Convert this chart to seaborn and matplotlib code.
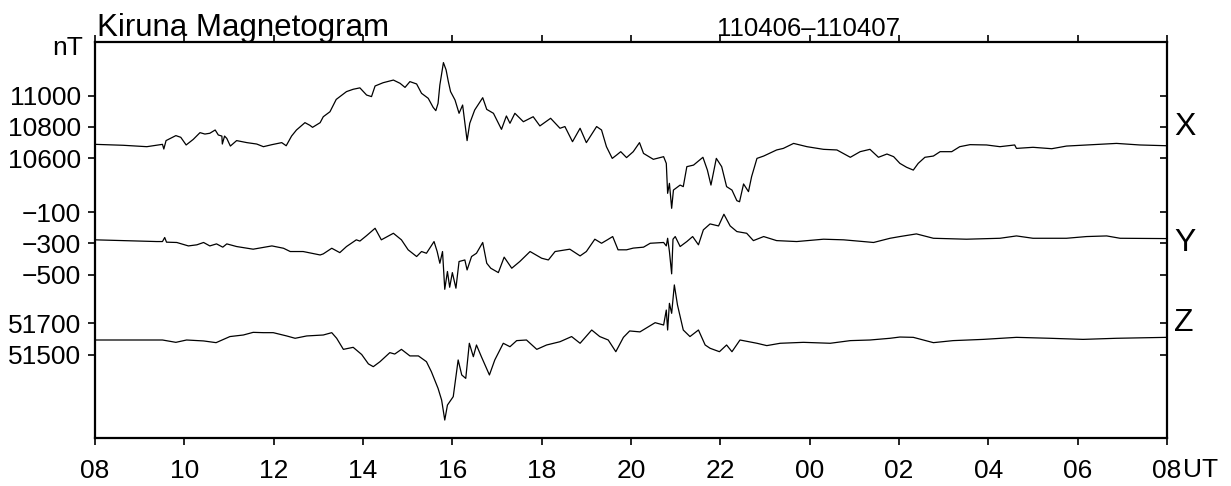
import seaborn as sns
import pandas as pd
import matplotlib.pyplot as plt

# Kiruna magnetogram 110406-110407, hours counted from 00 UT on 110406
x_hours = [8.0, 8.63, 9.16, 9.51, 9.54, 9.59, 9.81, 9.92, 10.04, 10.2, 10.35, 10.46, 10.57, 10.69,
           10.76, 10.84, 10.85, 10.9, 10.95, 11.03, 11.17, 11.4, 11.62, 11.77, 11.96, 12.18, 12.28,
           12.4, 12.51, 12.7, 12.81, 12.87, 13.04, 13.11, 13.26, 13.4, 13.63, 13.78, 13.93, 14.08,
           14.19, 14.27, 14.45, 14.68, 14.83, 14.94, 15.05, 15.2, 15.31, 15.46, 15.57, 15.63, 15.68,
           15.72, 15.8, 15.86, 15.91, 15.96, 16.06, 16.15, 16.23, 16.33, 16.39, 16.5, 16.68, 16.77,
           16.92, 17.1, 17.21, 17.29, 17.4, 17.59, 17.81, 17.96, 18.2, 18.41, 18.52, 18.69, 18.86,
           19.0, 19.23, 19.34, 19.45, 19.58, 19.68, 19.77, 19.9, 20.05, 20.19, 20.28, 20.5, 20.73,
           20.79, 20.82, 20.86, 20.91, 20.95, 21.1, 21.17, 21.25, 21.4, 21.61, 21.71, 21.79, 21.91,
           22.03, 22.14, 22.26, 22.37, 22.43, 22.52, 22.63, 22.7, 22.82, 22.97, 23.26, 23.41, 23.64,
           23.94, 24.31, 24.61, 24.91, 25.13, 25.35, 25.54, 25.73, 25.88, 26.02, 26.17, 26.32, 26.43,
           26.58, 26.77, 26.92, 27.18, 27.36, 27.59, 27.96, 28.26, 28.59, 28.63, 29.0, 29.42, 29.75,
           30.2, 30.87, 31.39, 32.0]
x_nT = [10688, 10682, 10673, 10688, 10658, 10712, 10744, 10733, 10684, 10720, 10763, 10754, 10759, 10780,
        10748, 10741, 10690, 10741, 10726, 10677, 10712, 10699, 10690, 10673, 10686, 10699, 10679,
        10741, 10780, 10827, 10810, 10797, 10827, 10865, 10897, 10976, 11026, 11041, 11050, 11004,
        10994, 11062, 11083, 11100, 11079, 11053, 11090, 11075, 11015, 10983, 10925, 10904, 10951,
        11068, 11212, 11165, 11090, 11026, 10972, 10887, 10940, 10712, 10823, 10908, 10987, 10912,
        10887, 10784, 10870, 10823, 10887, 10833, 10865, 10806, 10855, 10791, 10802, 10705, 10791,
        10699, 10802, 10780, 10673, 10598, 10620, 10641, 10603, 10641, 10699, 10630, 10592, 10609,
        10566, 10374, 10438, 10278, 10395, 10427, 10417, 10545, 10555, 10605, 10523, 10427, 10598,
        10545, 10417, 10395, 10327, 10320, 10434, 10385, 10481, 10598, 10613, 10652, 10662, 10694,
        10673, 10656, 10652, 10605, 10641, 10656, 10605, 10626, 10609, 10566, 10541, 10523, 10566,
        10605, 10613, 10641, 10641, 10673, 10686, 10684, 10673, 10684, 10662, 10669, 10660, 10677,
        10684, 10694, 10684, 10679]

y_hours = [8.0, 8.63, 9.38, 9.51, 9.56, 9.6, 9.83, 10.09, 10.28, 10.43, 10.57, 10.72, 10.86, 10.95,
           11.17, 11.54, 11.96, 12.22, 12.37, 12.66, 13.04, 13.11, 13.3, 13.48, 13.63, 13.85, 13.93,
           14.08, 14.27, 14.41, 14.68, 14.86, 15.01, 15.2, 15.31, 15.42, 15.59, 15.66, 15.72, 15.78,
           15.83, 15.89, 15.94, 16.0, 16.08, 16.15, 16.28, 16.33, 16.43, 16.54, 16.68, 16.77, 16.86,
           17.03, 17.16, 17.33, 17.51, 17.74, 18.0, 18.15, 18.3, 18.63, 18.86, 19.0, 19.19, 19.34,
           19.47, 19.59, 19.71, 19.9, 20.05, 20.28, 20.43, 20.73, 20.79, 20.82, 20.86, 20.91, 20.94,
           20.99, 21.1, 21.25, 21.38, 21.51, 21.62, 21.77, 21.96, 22.08, 22.22, 22.37, 22.59, 22.74,
           22.97, 23.26, 23.71, 24.31, 24.76, 25.2, 25.43, 25.8, 26.02, 26.39, 26.77, 27.51, 28.26,
           28.63, 29.0, 29.75, 30.2, 30.65, 30.95, 32.0]
y_nT = [-277, -282, -288, -288, -262, -292, -294, -316, -309, -294, -316, -303, -324, -303,
        -320, -337, -316, -331, -352, -352, -374, -367, -331, -359, -320, -277, -285,
        -250, -203, -277, -235, -277, -341, -384, -352, -363, -288, -352, -427, -352,
        -594, -480, -581, -487, -587, -416, -406, -470, -384, -363, -294, -427, -459,
        -487, -388, -459, -416, -352, -395, -406, -352, -337, -380, -352, -273, -299,
        -277, -256, -341, -341, -330, -324, -299, -294, -316, -267, -352, -495, -273,
        -256, -320, -288, -256, -309, -213, -175, -188, -113, -188, -224, -235, -282,
        -256, -282, -288, -273, -277, -288, -294, -267, -256, -239, -267, -273, -267,
        -252, -267, -267, -256, -252, -267, -269]

z_hours = [8.0, 8.63, 9.51, 9.81, 10.05, 10.43, 10.71, 11.02, 11.32, 11.54, 11.77, 11.99, 12.29,
           12.48, 12.74, 13.11, 13.3, 13.41, 13.56, 13.78, 13.97, 14.12, 14.23, 14.38, 14.6, 14.71,
           14.86, 15.05, 15.24, 15.42, 15.53, 15.68, 15.76, 15.83, 15.89, 16.02, 16.13, 16.21, 16.3,
           16.38, 16.47, 16.54, 16.65, 16.83, 16.95, 17.14, 17.29, 17.44, 17.66, 17.89, 18.11, 18.41,
           18.67, 18.86, 19.12, 19.3, 19.49, 19.66, 19.83, 19.97, 20.2, 20.54, 20.73, 20.79, 20.82,
           20.86, 20.91, 20.97, 21.04, 21.17, 21.32, 21.51, 21.66, 21.77, 21.98, 22.14, 22.26, 22.44,
           22.82, 23.04, 23.34, 23.86, 24.46, 24.91, 25.35, 25.8, 26.02, 26.32, 26.77, 27.21, 27.89,
           28.63, 29.38, 30.12, 30.87, 32.0]
z_nT = [51593, 51593, 51593, 51578, 51593, 51587, 51576, 51615, 51625, 51642, 51640, 51640, 51619,
        51604, 51619, 51625, 51640, 51604, 51533, 51546, 51500, 51440, 51422, 51454, 51512, 51503,
        51533, 51491, 51491, 51454, 51390, 51283, 51208, 51080, 51176, 51230, 51465, 51369, 51347,
        51572, 51486, 51561, 51486, 51369, 51465, 51572, 51550, 51589, 51593, 51533, 51561, 51582,
        51615, 51572, 51657, 51615, 51593, 51518, 51610, 51651, 51645, 51704, 51689, 51785, 51657,
        51828, 51764, 51946, 51818, 51657, 51615, 51657, 51561, 51540, 51518, 51561, 51518, 51593,
        51572, 51557, 51572, 51578, 51572, 51589, 51593, 51604, 51612, 51610, 51576, 51589, 51597,
        51610, 51604, 51597, 51604, 51610]

x_ticks = [11000, 10800, 10600]
y_ticks = [-100, -300, -500]
z_ticks = [51700, 51500]
hour_ticks = list(range(8, 33, 2))

# common nT scale, components shifted so they stack
y_shift = 10353
z_shift = -42159

sns.set_theme(style="ticks")
plt.rcParams['font.family'] = ['Liberation Sans', 'DejaVu Sans']
plt.rcParams['text.color'] = 'black'
plt.rcParams['xtick.color'] = 'black'
plt.rcParams['ytick.color'] = 'black'

fig = plt.figure(figsize=(12.31, 4.86), dpi=100)
ax = fig.add_axes([0.0772, 0.0988, 0.8708, 0.8148])

dfx = pd.DataFrame({'hour': x_hours, 'val': x_nT})
dfy = pd.DataFrame({'hour': y_hours, 'val': [v + y_shift for v in y_nT]})
dfz = pd.DataFrame({'hour': z_hours, 'val': [v + z_shift for v in z_nT]})
for df in [dfx, dfy, dfz]:
    sns.lineplot(data=df, x='hour', y='val', color='black', linewidth=0.9, estimator=None, ax=ax)

ax.set_xlim(8, 32)
ax.set_ylim(8806, 11344)
ax.set_xlabel('')
ax.set_ylabel('')

ytick_pos = x_ticks + [v + y_shift for v in y_ticks] + [v + z_shift for v in z_ticks]
ytick_lab = [str(v) if v >= 0 else '\u2212' + str(-v) for v in x_ticks + y_ticks + z_ticks]
ax.set_yticks(ytick_pos)
ax.set_yticklabels(ytick_lab)
ax.set_xticks(hour_ticks)
ax.set_xticklabels(['{0:02d}'.format(h % 24) for h in hour_ticks])
ax.tick_params(axis='x', top=True, direction='out', length=5, width=1.2, labelsize=19, pad=10,
               colors='black')
ax.tick_params(axis='y', direction='out', length=5, width=1.2, labelsize=19, pad=5, colors='black')
for s in ax.spines.values():
    s.set_visible(True)
    s.set_linewidth(1.6)
    s.set_color('black')

# inward ticks on the right side
ax2 = ax.twinx()
ax2.set_ylim(ax.get_ylim())
ax2.set_yticks(ytick_pos)
ax2.tick_params(axis='y', direction='in', length=5, width=1.2, labelright=False, colors='black')
for s in ax2.spines.values():
    s.set_visible(False)

for name, pos in [('X', 10800), ('Y', -300 + y_shift), ('Z', 51700 + z_shift)]:
    ax.text(1.007, pos, name, transform=ax.get_yaxis_transform(), fontsize=23,
            ha='left', va='center', color='black')

ax.text(-0.011, 0.985, 'nT', transform=ax.transAxes, fontsize=19, ha='right', va='center', color='black')
ax.text(1.0145, -0.08, 'UT', transform=ax.transAxes, fontsize=19, ha='left', va='center', color='black')
fig.text(0.0788, 0.926, 'Kiruna Magnetogram', fontsize=22.5, ha='left', va='baseline', color='black')
fig.text(0.657, 0.926, '110406\u2013110407', fontsize=18.5, ha='center', va='baseline', color='black')

plt.savefig('out.png', dpi=100)
plt.close()
